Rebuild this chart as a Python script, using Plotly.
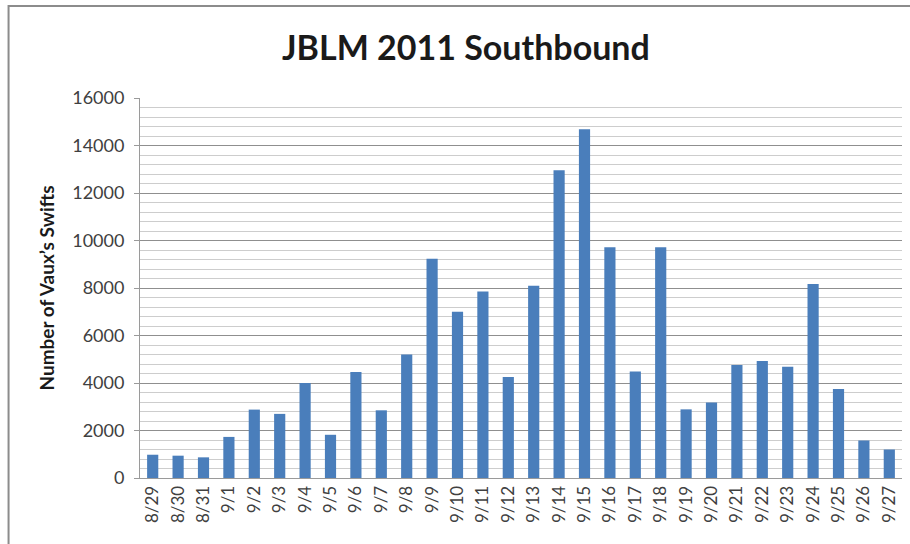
import plotly.graph_objects as go

dates = ["8/29", "8/30", "8/31", "9/1", "9/2", "9/3", "9/4", "9/5", "9/6", "9/7",
         "9/8", "9/9", "9/10", "9/11", "9/12", "9/13", "9/14", "9/15", "9/16", "9/17",
         "9/18", "9/19", "9/20", "9/21", "9/22", "9/23", "9/24", "9/25", "9/26", "9/27"]
swifts = [980, 940, 870, 1730, 2880, 2700, 4000, 1820, 4460, 2850,
          5200, 9230, 7000, 7850, 4250, 8100, 12960, 14680, 9720, 4480,
          9720, 2890, 3180, 4760, 4930, 4680, 8170, 3750, 1580, 1200]
y_ticks = [0, 2000, 4000, 6000, 8000, 10000, 12000, 14000, 16000]

fig = go.Figure(go.Bar(x=dates, y=swifts, marker=dict(color="#4a7ebb", line=dict(width=0))))

fig.update_layout(
    width=910, height=544,
    margin=dict(l=140, r=8, t=98, b=66),
    paper_bgcolor="white", plot_bgcolor="white",
    bargap=0.56,
    showlegend=False,
    title=dict(text="<b>JBLM 2011 Southbound</b>", x=0.512, xref="container", xanchor="center",
               y=0.912, yanchor="middle",
               font=dict(family="Lato", size=34, color="#1a1a1a")),
    font=dict(family="Lato", color="#404040"),
    # chart frame (left and top edges fall inside the page)
    shapes=[dict(type="rect", xref="paper", yref="paper", x0=-0.1725, x1=1.05,
                 y0=-0.25, y1=1.242, line=dict(color="#8c8c8c", width=2))],
)

fig.update_xaxes(
    type="category", tickangle=-90, tickfont=dict(size=17, color="#404040"),
    showline=True, linecolor="#9a9a9a", linewidth=1, ticks="", showgrid=False,
)
fig.update_yaxes(
    range=[0, 16000], tickvals=y_ticks, ticktext=[str(v) for v in y_ticks],
    tickfont=dict(size=18, color="#404040"), ticklabelstandoff=6,
    showgrid=True, gridcolor="#8f8f8f", gridwidth=1,
    minor=dict(dtick=400, showgrid=True, gridcolor="#cdcdcd", gridwidth=1),
    showline=True, linecolor="#9a9a9a", ticks="outside", ticklen=5, tickcolor="#9a9a9a",
    zeroline=False,
    title=dict(text="<b>Number of Vaux\u2019s Swifts</b>", font=dict(size=19, color="#1a1a1a"),
               standoff=12),
)

fig.write_html("out.html")
